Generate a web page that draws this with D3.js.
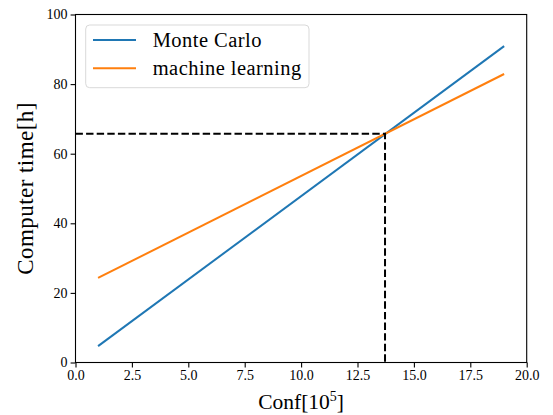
<!DOCTYPE html>
<html><head><meta charset="utf-8">
<script src="https://cdn.jsdelivr.net/npm/d3@7"></script>
<style>body{margin:0;background:#fff}svg{display:block}</style>
</head><body>
<svg id="c" width="553" height="415"></svg>
<script>
const conf = [1, 19];
const monteCarlo = [4.7, 90.9];
const machineLearning = [24.3, 82.9];
const crossPoint = [13.72, 65.7];
const xTicks = [0, 2.5, 5, 7.5, 10, 12.5, 15, 17.5, 20];
const yTicks = [0, 20, 40, 60, 80, 100];
const seriesNames = ["Monte Carlo", "machine learning"];
const colors = ["#1f77b4", "#ff7f0e"];

const svg = d3.select("#c");
const L = 75.5, R = 526.7, T = 14.5, B = 362.5;
const font = "'Liberation Serif', 'DejaVu Serif', serif";
const x = d3.scaleLinear().domain([0, 20]).range([L, R]);
const y = d3.scaleLinear().domain([0, 100]).range([B, T]);

const series = [monteCarlo, machineLearning];
const line = d3.line().x(d => x(d[0])).y(d => y(d[1]));
series.forEach((s, i) => {
  svg.append("path").datum(conf.map((c, j) => [c, s[j]]))
    .attr("d", line).attr("fill", "none").attr("stroke", colors[i]).attr("stroke-width", 2);
});

// dashed guide lines
svg.append("path").datum([[0, crossPoint[1]], crossPoint, [crossPoint[0], 0]])
  .attr("d", line).attr("fill", "none").attr("stroke", "#000")
  .attr("stroke-width", 2).attr("stroke-dasharray", "7.4,3.2");

// axes
const xAxis = svg.append("g").attr("transform", `translate(0,${B})`)
  .call(d3.axisBottom(x).tickValues(xTicks).tickFormat(d3.format(".1f")).tickSize(4.9).tickPadding(3));
const yAxis = svg.append("g").attr("transform", `translate(${L},0)`)
  .call(d3.axisLeft(y).tickValues(yTicks).tickFormat(d3.format("d")).tickSize(4.9).tickPadding(3));
[xAxis, yAxis].forEach(g => {
  g.select(".domain").remove();
  g.selectAll(".tick line").attr("stroke", "#000").attr("stroke-width", 1.1);
  g.selectAll(".tick text").attr("font-family", font).attr("font-size", 14).attr("fill", "#000");
});
svg.append("rect").attr("x", L).attr("y", T).attr("width", R - L).attr("height", B - T)
  .attr("fill", "none").attr("stroke", "#000").attr("stroke-width", 1.1);

// axis labels
const xl = svg.append("text").attr("x", (L + R) / 2).attr("y", 409).attr("text-anchor", "middle")
  .attr("font-family", font).attr("font-size", 21.5).attr("fill", "#000");
xl.append("tspan").text("Conf[10");
xl.append("tspan").text("5").attr("font-size", 14).attr("dy", -8);
xl.append("tspan").text("]").attr("dy", 8);
svg.append("text").attr("transform", `translate(32.5,${(T + B) / 2}) rotate(-90)`).attr("text-anchor", "middle")
  .attr("font-family", font).attr("font-size", 23).attr("letter-spacing", 0.45).attr("fill", "#000").text("Computer time[h]");

// legend
svg.append("rect").attr("x", 85.7).attr("y", 25).attr("width", 223.3).attr("height", 62.7)
  .attr("rx", 4).attr("fill", "#fff").attr("fill-opacity", 0.8).attr("stroke", "#d9d9d9").attr("stroke-width", 1);
seriesNames.forEach((n, i) => {
  const ly = 40 + i * 28.3;
  svg.append("line").attr("x1", 93).attr("x2", 136).attr("y1", ly).attr("y2", ly)
    .attr("stroke", colors[i]).attr("stroke-width", 2);
  svg.append("text").attr("x", 152.7).attr("y", ly + 6.5).attr("font-family", font)
    .attr("font-size", 20.5).attr("letter-spacing", 0.45).attr("fill", "#000").text(n);
});
</script>
</body></html>
